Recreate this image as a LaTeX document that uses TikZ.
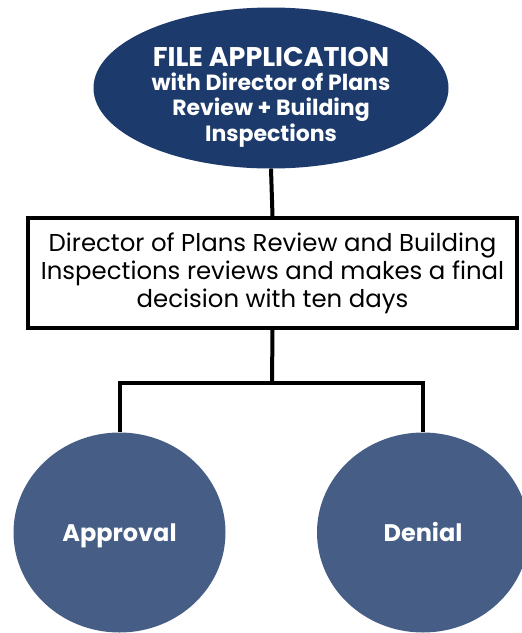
\documentclass[tikz,border=0pt]{standalone}
\usepackage{fontspec}
\setmainfont{Poppins}
\usetikzlibrary{shapes.geometric, positioning}
\definecolor{navy}{HTML}{1C3A6B}
\definecolor{slate}{HTML}{465E86}
\tikzset{
  startnode/.style={ellipse, fill=navy, text=white, inner sep=0pt,
    minimum width=355pt, minimum height=161pt, align=center,
    text height=108pt, text depth=2pt,
    font=\fontsize{22}{25.5}\selectfont\bfseries},
  reviewbox/.style={rectangle, draw=black, line width=4pt, fill=white,
    minimum width=489pt, minimum height=110pt, align=center,
    font=\fontsize{24.4}{28}\selectfont},
  outcome/.style={ellipse, fill=slate, text=white, inner sep=0pt,
    minimum width=212pt, minimum height=200pt, text height=17pt, text depth=0pt,
    font=\fontsize{24}{28}\selectfont\bfseries},
  link/.style={line width=4pt, black},
}
\begin{document}
\begin{tikzpicture}[x=1pt, y=-1pt]
\useasboundingbox (0,0) rectangle (522,633);
\node[startnode] (apply) at (271,88)
  {{\fontsize{27}{30}\selectfont FILE APPLICATION}\\[-2pt]
   with Director of Plans\\
   Review + Building\\ Inspections};
\node[reviewbox] (review) at (272.5,273)
  {Director of Plans Review and Building\\
   Inspections reviews and makes a final\\
   decision with ten days};
\node[outcome] (approval) at (119.5,532.5) {Approval};
\node[outcome] (denial) at (423,532.5) {Denial};
\coordinate (split) at (272,383);
\draw[link] (apply.south) -- (review.north);
\draw[link] (review.south) -- (split);
\draw[link] (split) -| (approval.north);
\draw[link] (split) -| (denial.north);
\end{tikzpicture}
\end{document}
